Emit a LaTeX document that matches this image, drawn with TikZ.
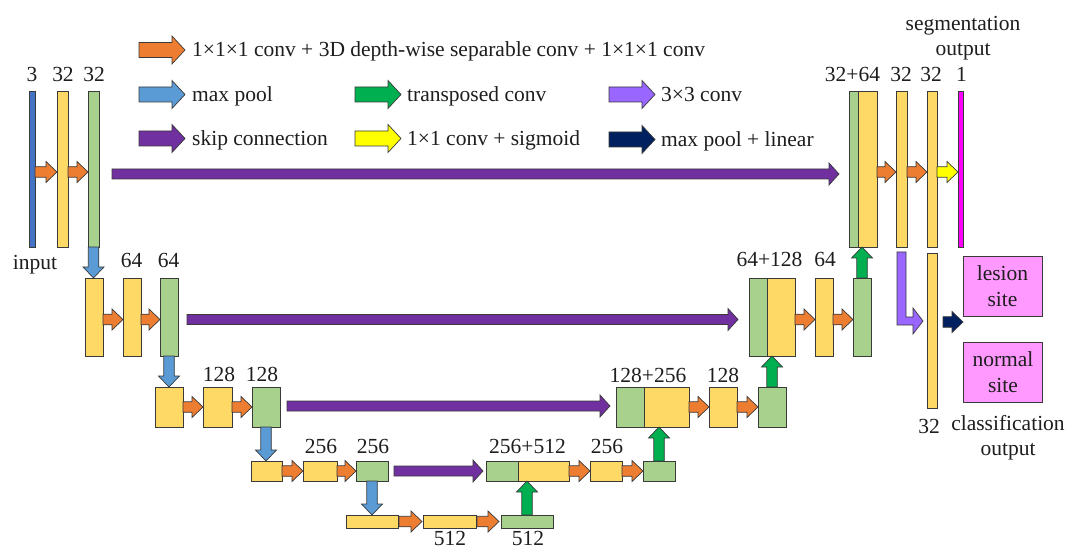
\documentclass[tikz,border=0pt]{standalone}
\usepackage{fontspec}
\setmainfont{Liberation Serif}
\usetikzlibrary{calc}

\definecolor{edge}{HTML}{3A3A3A}
\definecolor{fmyellow}{HTML}{FFD966}
\definecolor{fmgreen}{HTML}{A9D18E}
\definecolor{inblue}{HTML}{4472C4}
\definecolor{convorange}{HTML}{ED7D31}
\definecolor{poolblue}{HTML}{5B9BD5}
\definecolor{upgreen}{HTML}{00B050}
\definecolor{lavender}{HTML}{9966FF}
\definecolor{skippurple}{HTML}{7030A0}
\definecolor{sigyellow}{HTML}{FFFF00}
\definecolor{linnavy}{HTML}{002060}
\definecolor{segmagenta}{HTML}{FF00FF}
\definecolor{clspink}{HTML}{FF99FF}
\definecolor{txt}{HTML}{1E1E1E}

% feature map: name, style, left, top, right, bottom
\newcommand\unetblock[6]{%
  \pgfmathsetmacro\ubw{#5-#3}\pgfmathsetmacro\ubh{#6-#4}%
  \node[#2, minimum width=\ubw pt, minimum height=\ubh pt] (#1) at ({(#3+#5)/2},{(#4+#6)/2}) {};}

\tikzset{
  fmap/.style={draw=edge, line width=0.8pt, inner sep=0pt, outer sep=0pt},
  ymap/.style={fmap, fill=fmyellow},
  gmap/.style={fmap, fill=fmgreen},
  bmap/.style={fmap, fill=inblue},
  mmap/.style={fmap, fill=segmagenta},
  % block arrow: half shaft width, half head width, head length
  blockarrow/.style n args={3}{to path={
    ($(\tikztotarget)!#3!(\tikztostart)$) coordinate (ba-neck)
    ($(\tikztostart)!#1!90:(\tikztotarget)$)
    -- ($(ba-neck)!#1!90:(\tikztotarget)$)
    -- ($(ba-neck)!#2!90:(\tikztotarget)$)
    -- (\tikztotarget)
    -- ($(ba-neck)!#2!-90:(\tikztotarget)$)
    -- ($(ba-neck)!#1!-90:(\tikztotarget)$)
    -- ($(\tikztostart)!#1!-90:(\tikztotarget)$)
    -- cycle}},
  shortarrow/.style={blockarrow={5.25pt}{10.5pt}{11pt}},
  longarrow/.style={blockarrow={5pt}{11pt}{10pt}},
  keyarrow/.style={blockarrow={7.5pt}{14pt}{13pt}},
  arr/.style={draw=edge, line width=0.7pt, line join=miter},
  convarrow/.style={arr, fill=convorange},
  poolarrow/.style={arr, fill=poolblue},
  uparrow/.style={arr, fill=upgreen},
  skiparrow/.style={arr, fill=skippurple},
  sigarrow/.style={arr, fill=sigyellow},
  linarrow/.style={arr, fill=linnavy},
  lavarrow/.style={arr, fill=lavender},
  lbl/.style={anchor=base, inner sep=0pt, text=txt, font=\fontsize{21.5}{25}\selectfont},
  legendtext/.style={lbl, anchor=base west},
  site/.style={fmap, fill=clspink, minimum width=79pt, minimum height=60pt,
    align=center, text=txt, font=\fontsize{21.5}{26}\selectfont},
}

\begin{document}
\begin{tikzpicture}[x=1pt, y=-1pt]
\useasboundingbox (0,0) rectangle (1069,548);
\fill[white] (0,0) rectangle (1069,548);

% ---------- legend ----------
\draw[convarrow, keyarrow] (139,50) to (185,50);
\node[legendtext] (k1) at (192,57) {1×1×1 conv + 3D depth-wise separable conv + 1×1×1 conv};
\draw[poolarrow, keyarrow] (139,94.5) to (185,94.5);
\node[legendtext] (k2) at (192,101.5) {max pool};
\draw[uparrow, keyarrow] (355,94.5) to (401,94.5);
\node[legendtext] (k3) at (407,101.5) {transposed conv};
\draw[lavarrow, keyarrow] (609,94.5) to (655,94.5);
\node[legendtext] (k4) at (661,101.5) {3×3 conv};
\draw[skiparrow, keyarrow] (139,138.5) to (185,138.5);
\node[legendtext] (k5) at (192,145.5) {skip connection};
\draw[sigarrow, keyarrow] (355,138.5) to (401,138.5);
\node[legendtext] (k6) at (407,145.5) {1×1 conv + sigmoid};
\draw[linarrow, keyarrow] (609,139.5) to (655,139.5);
\node[legendtext] (k7) at (661,146.5) {max pool + linear};

% ---------- level 1 ----------
\unetblock{inp}{bmap}{29}{91}{35}{247}
\unetblock{e1a}{ymap}{57}{91}{68}{247}
\unetblock{e1b}{gmap}{88}{91}{99}{247}
\unetblock{d1g}{gmap}{849}{91}{858}{247}
\unetblock{d1y}{ymap}{858}{91}{877}{247}
\unetblock{d1a}{ymap}{896}{91}{907}{247}
\unetblock{d1b}{ymap}{927}{91}{937}{247}
\unetblock{seg}{mmap}{958}{91}{963}{247}
\unetblock{cls}{ymap}{927}{253}{937}{408}

% ---------- level 2 ----------
\unetblock{e2a}{ymap}{85}{278}{103}{356}
\unetblock{e2b}{ymap}{123}{278}{141}{356}
\unetblock{e2c}{gmap}{160}{278}{178}{356}
\unetblock{d2g}{gmap}{749}{278}{767}{356}
\unetblock{d2y}{ymap}{767}{278}{795}{356}
\unetblock{d2a}{ymap}{815}{278}{833}{356}
\unetblock{d2b}{gmap}{853}{278}{871}{356}

% ---------- level 3 ----------
\unetblock{e3a}{ymap}{155}{387}{183}{427}
\unetblock{e3b}{ymap}{203}{387}{232}{427}
\unetblock{e3c}{gmap}{252}{387}{280}{427}
\unetblock{d3g}{gmap}{616}{387}{644}{427}
\unetblock{d3y}{ymap}{644}{387}{689}{427}
\unetblock{d3a}{ymap}{709}{387}{737}{427}
\unetblock{d3b}{gmap}{758}{387}{786}{427}

% ---------- level 4 ----------
\unetblock{e4a}{ymap}{251}{461}{282}{481}
\unetblock{e4b}{ymap}{303}{461}{337}{481}
\unetblock{e4c}{gmap}{356}{461}{388}{481}
\unetblock{d4g}{gmap}{486}{461}{518}{481}
\unetblock{d4y}{ymap}{518}{461}{569}{481}
\unetblock{d4a}{ymap}{590}{461}{622}{481}
\unetblock{d4b}{gmap}{643}{461}{675}{481}

% ---------- level 5 (bottleneck) ----------
\unetblock{e5a}{ymap}{346}{515}{398}{528}
\unetblock{e5b}{ymap}{423}{515}{476}{528}
\unetblock{e5c}{gmap}{501}{515}{553}{528}

% ---------- classification heads ----------
\node[site] (lesion) at (1002.5,286) {lesion\\site};
\node[site] (normal) at (1003,372) {normal\\site};

% ---------- channel labels ----------
\node[lbl] (t-inp) at (32,82) {3};
\node[lbl] (t-e1a) at (63,82) {32};
\node[lbl] (t-e1b) at (94,82) {32};
\node[lbl] (t-d1y) at (852.5,82) {32+64};
\node[lbl] (t-d1a) at (901,82) {32};
\node[lbl] (t-d1b) at (931,82) {32};
\node[lbl] (t-seg) at (961.5,82) {1};
\node[lbl] (t-seg1) at (963,31) {segmentation};
\node[lbl] (t-seg2) at (963,56) {output};
\node[lbl] (t-input) at (35,270) {input};
\node[lbl] (t-e2b) at (131.5,268) {64};
\node[lbl] (t-e2c) at (168.5,268) {64};
\node[lbl] (t-d2y) at (769.5,267) {64+128};
\node[lbl] (t-d2a) at (825,267) {64};
\node[lbl] (t-e3b) at (219,381) {128};
\node[lbl] (t-e3c) at (262,381) {128};
\node[lbl] (t-d3y) at (648,382) {128+256};
\node[lbl] (t-d3a) at (723,382) {128};
\node[lbl] (t-e4b) at (321,453) {256};
\node[lbl] (t-e4c) at (373,453) {256};
\node[lbl] (t-d4y) at (527.5,453) {256+512};
\node[lbl] (t-d4a) at (607,453) {256};
\node[lbl] (t-e5b) at (450,545) {512};
\node[lbl] (t-e5c) at (528,545) {512};
\node[lbl] (t-cls) at (929,433) {32};
\node[lbl] (t-cls1) at (1008,430) {classification};
\node[lbl] (t-cls2) at (1008,455) {output};

% ---------- convolution arrows ----------
\draw[convarrow, shortarrow] ($(inp.east)+(0,3)$) to ($(e1a.west)+(0,3)$);
\draw[convarrow, shortarrow] ($(e1a.east)+(0,3)$) to ($(e1b.west)+(0,3)$);
\draw[convarrow, shortarrow] ($(d1y.east)+(0,3)$) to ($(d1a.west)+(0,3)$);
\draw[convarrow, shortarrow] ($(d1a.east)+(0,3)$) to ($(d1b.west)+(0,3)$);
\draw[sigarrow, shortarrow] ($(d1b.east)+(0,3)$) to ($(seg.west)+(0,3)$);

\draw[convarrow, shortarrow] ($(e2a.east)+(0,2.5)$) to ($(e2b.west)+(0,2.5)$);
\draw[convarrow, shortarrow] ($(e2b.east)+(0,2.5)$) to ($(e2c.west)+(0,2.5)$);
\draw[convarrow, shortarrow] ($(d2y.east)+(0,2.5)$) to ($(d2a.west)+(0,2.5)$);
\draw[convarrow, shortarrow] ($(d2a.east)+(0,2.5)$) to ($(d2b.west)+(0,2.5)$);

\draw[convarrow, shortarrow] (e3a.east) to (e3b.west);
\draw[convarrow, shortarrow] (e3b.east) to (e3c.west);
\draw[convarrow, shortarrow] (d3y.east) to (d3a.west);
\draw[convarrow, shortarrow] (d3a.east) to (d3b.west);

\draw[convarrow, shortarrow] (e4a.east) to (e4b.west);
\draw[convarrow, shortarrow] (e4b.east) to (e4c.west);
\draw[convarrow, shortarrow] (d4y.east) to (d4a.west);
\draw[convarrow, shortarrow] (d4a.east) to (d4b.west);

\draw[convarrow, shortarrow] ($(e5a.east)+(1,0)$) to ($(e5b.west)+(-1,0)$);
\draw[convarrow, shortarrow] ($(e5b.east)+(1,0)$) to ($(e5c.west)+(-2,0)$);

% ---------- max pooling ----------
\draw[poolarrow, shortarrow] (e1b.south) to (e1b.south |- e2a.north);
\draw[poolarrow, shortarrow] (e2c.south) to (e2c.south |- e3a.north);
\draw[poolarrow, shortarrow] (e3c.south) to (e3c.south |- e4a.north);
\draw[poolarrow, shortarrow] (e4c.south) to (e4c.south |- e5a.north);

% ---------- transposed convolutions ----------
\draw[uparrow, shortarrow] (e5c.north) to (e5c.north |- d4y.south);
\draw[uparrow, shortarrow] (d4b.north) to (d4b.north |- d3y.south);
\draw[uparrow, shortarrow] (d3b.north) to (d3b.north |- d2y.south);
\draw[uparrow, shortarrow] (d2b.north) to (d2b.north |- d1y.south);

% ---------- skip connections ----------
\draw[skiparrow, longarrow] ($(e1b.east)+(13,5)$) to ($(d1g.west)+(-10,5)$);
\draw[skiparrow, longarrow] ($(e2c.east)+(9,2.5)$) to ($(d2g.west)+(-11,2.5)$);
\draw[skiparrow, longarrow] ($(e3c.east)+(7,-1)$) to ($(d3g.west)+(-6,-1)$);
\draw[skiparrow, longarrow] ($(e4c.east)+(6,0)$) to ($(d4g.west)+(-3,0)$);

% ---------- classification branch ----------
\draw[lavarrow] let \p1=($(d1a.south)+(0,5)$), \p2=($(cls.west)+(-4,-9.5)$) in
  (\x1-4.5pt,\y1) -- (\x1+4.5pt,\y1) -- (\x1+4.5pt,\y2+4pt) -- (\x2-10pt,\y2+4pt)
  -- (\x2-10pt,\y2+13pt) -- (\p2) -- (\x2-10pt,\y2-13pt) -- (\x2-10pt,\y2-4pt)
  -- (\x1-4.5pt,\y2-4pt) -- cycle;
\coordinate (clsout) at ($(cls.east)+(6,-8.5)$);
\draw[linarrow, shortarrow] (clsout) to (clsout -| lesion.west);
\end{tikzpicture}
\end{document}
